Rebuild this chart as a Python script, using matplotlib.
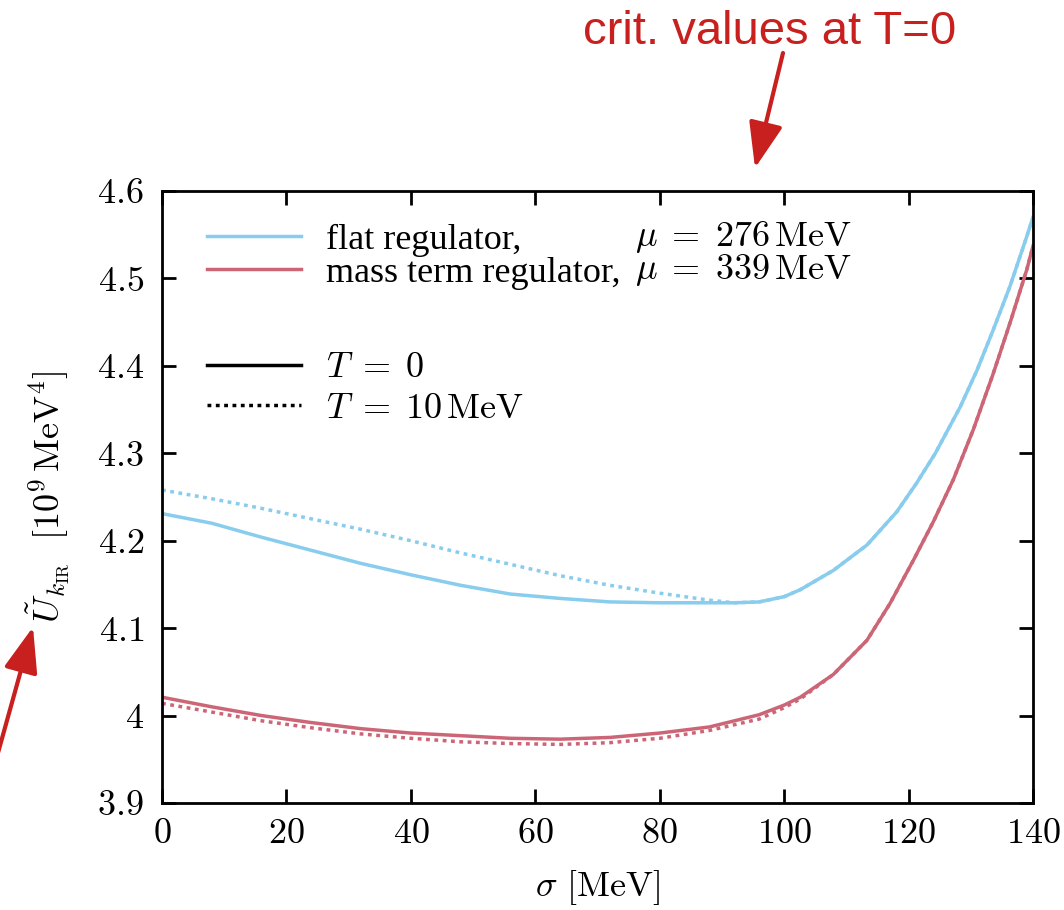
import numpy as np
import matplotlib.pyplot as plt
from matplotlib.patches import FancyArrowPatch
from matplotlib.lines import Line2D

plt.rcParams['mathtext.fontset'] = 'cm'
plt.rcParams['font.family'] = ['Liberation Serif', 'DejaVu Serif']

# ------------------ Data ------------------
sig_flat = [0, 8, 16, 24, 32, 40, 48, 56, 64, 72, 80, 88, 92, 96, 100, 102.6, 107.9, 113.3, 118.1,
            121.3, 124.3, 128.3, 131, 133.6, 136.3, 139, 140]
flat_T0 = [4.231, 4.220, 4.204, 4.189, 4.174, 4.161, 4.149, 4.139, 4.134, 4.130, 4.129, 4.129, 4.129,
           4.130, 4.136, 4.144, 4.166, 4.195, 4.233, 4.266, 4.300, 4.353, 4.395, 4.441, 4.491, 4.548, 4.570]
flat_T10 = [4.258, 4.248, 4.237, 4.225, 4.213, 4.200, 4.186, 4.173, 4.160, 4.149, 4.140, 4.132, 4.129,
            4.130, 4.136, 4.144, 4.166, 4.195, 4.233, 4.266, 4.300, 4.353, 4.395, 4.441, 4.491, 4.548, 4.570]

sig_mass = [0, 8, 16, 24, 32, 40, 48, 56, 64, 72, 80, 88, 96, 100, 102.6, 107.9, 113.3, 117, 120.8,
            124, 127.2, 130.4, 133.6, 136.3, 139, 140]
mass_T0 = [4.021, 4.010, 4.000, 3.992, 3.985, 3.980, 3.977, 3.974, 3.973, 3.975, 3.980, 3.987, 4.001,
           4.012, 4.021, 4.047, 4.086, 4.128, 4.178, 4.222, 4.270, 4.327, 4.391, 4.449, 4.510, 4.537]
mass_T10 = [4.014, 4.004, 3.994, 3.986, 3.979, 3.974, 3.970, 3.968, 3.967, 3.969, 3.974, 3.983, 3.996,
            4.009, 4.019, 4.047, 4.086, 4.128, 4.178, 4.222, 4.270, 4.327, 4.391, 4.449, 4.510, 4.537]

xticks = [0, 20, 40, 60, 80, 100, 120, 140]
yticks = [3.9, 4.0, 4.1, 4.2, 4.3, 4.4, 4.5, 4.6]
ytick_labels = ['3.9', '4', '4.1', '4.2', '4.3', '4.4', '4.5', '4.6']

blue = '#88CCEE'
rose = '#CC6677'
red = '#C8201E'
dotted = (0, (1.1, 1.3))
lw = 2.5
fs = 26

# ------------------ Figure ------------------
fig = plt.figure(figsize=(10.64, 9.10), dpi=100)
ax = fig.add_axes([162 / 1064, 107 / 910, 871 / 1064, 612 / 910])

ax.plot(sig_flat, flat_T10, color=blue, lw=lw, ls=dotted)
ax.plot(sig_mass, mass_T10, color=rose, lw=lw, ls=dotted)
ax.plot(sig_flat, flat_T0, color=blue, lw=lw)
ax.plot(sig_mass, mass_T0, color=rose, lw=lw)

ax.set_xlim(0, 140)
ax.set_ylim(3.9, 4.6)
ax.set_xticks(xticks)
ax.set_xticklabels(['$%d$' % v for v in xticks])
ax.set_yticks(yticks)
ax.set_yticklabels(['$%s$' % s for s in ytick_labels])
ax.tick_params(direction='in', length=10, width=2, top=True, right=True, labelsize=fs)
ax.tick_params(axis='x', pad=11)
ax.tick_params(axis='y', pad=13)
for sp in ax.spines.values():
    sp.set_linewidth(2)

ax.set_xlabel(r'$\sigma\ [\mathrm{MeV}]$', fontsize=fs, labelpad=12)
ax.set_ylabel(r'$\tilde{U}_{k_\mathrm{IR}}\ \ [10^9\,\mathrm{MeV}^4]$', fontsize=fs, labelpad=18)

# legend: regulators
h1 = [Line2D([], [], color=blue, lw=lw), Line2D([], [], color=rose, lw=lw)]
leg1 = ax.legend(h1, ['flat regulator,', 'mass term regulator,'], loc='upper left',
                 bbox_to_anchor=(0.052, 0.947), frameon=False, fontsize=fs,
                 handlelength=2.6, handletextpad=0.7, labelspacing=0.0,
                 borderpad=0, borderaxespad=0)
ax.add_artist(leg1)
ax.text(0.543, 0.925, r'$\mu\;=\;276\,\mathrm{MeV}$', transform=ax.transAxes, fontsize=fs, va='center')
ax.text(0.543, 0.871, r'$\mu\;=\;339\,\mathrm{MeV}$', transform=ax.transAxes, fontsize=fs, va='center')

# legend: temperatures
h2 = [Line2D([], [], color='black', lw=lw), Line2D([], [], color='black', lw=lw, ls=dotted)]
ax.legend(h2, [r'$T\;=\;0$', r'$T\;=\;10\,\mathrm{MeV}$'], loc='upper left',
          bbox_to_anchor=(0.052, 0.737), frameon=False, fontsize=fs,
          handlelength=2.6, handletextpad=0.7, labelspacing=0.2,
          borderpad=0, borderaxespad=0)

# ------------------ Red annotations ------------------
fig.text(770 / 1064, 1 - 32 / 910, 'crit. values at T=0', color=red, fontsize=34,
         family='Liberation Sans', ha='center', va='center')
for tail, tip in [((783, 857), (755, 742)), ((-4, 150), (33, 283))]:
    arr = FancyArrowPatch(tail, tip, transform=None, arrowstyle='-|>,head_length=0.4,head_width=0.15',
                          mutation_scale=70, color=red, lw=3, shrinkA=0, shrinkB=0)
    fig.add_artist(arr)

fig.savefig('out.png', dpi=100)
